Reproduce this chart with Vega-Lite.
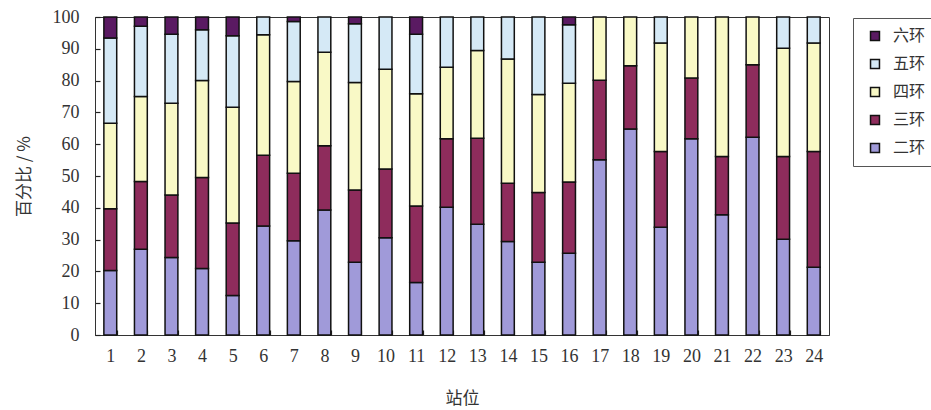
{
  "$schema": "https://vega.github.io/schema/vega-lite/v6.json",
  "width": 734,
  "height": 318,
  "autosize": {"type": "none"},
  "padding": {"left": 95, "top": 17, "right": 102, "bottom": 75},
  "background": "white",
  "config": {
    "view": {"stroke": "#333333", "strokeWidth": 1},
    "axis": {"domainColor": "#333333", "tickColor": "#222222", "tickWidth": 1.2, "labelColor": "#333333", "titleColor": "#333333", "grid": false}
  },
  "data": {"values": [
    {"s":1,"r":"二环","v":20.3},{"s":1,"r":"三环","v":19.4},{"s":1,"r":"四环","v":26.9},{"s":1,"r":"五环","v":26.8},{"s":1,"r":"六环","v":6.6},
    {"s":2,"r":"二环","v":27.0},{"s":2,"r":"三环","v":21.3},{"s":2,"r":"四环","v":26.7},{"s":2,"r":"五环","v":22.1},{"s":2,"r":"六环","v":2.9},
    {"s":3,"r":"二环","v":24.4},{"s":3,"r":"三环","v":19.6},{"s":3,"r":"四环","v":28.9},{"s":3,"r":"五环","v":21.7},{"s":3,"r":"六环","v":5.4},
    {"s":4,"r":"二环","v":20.9},{"s":4,"r":"三环","v":28.6},{"s":4,"r":"四环","v":30.5},{"s":4,"r":"五环","v":16.0},{"s":4,"r":"六环","v":4.0},
    {"s":5,"r":"二环","v":12.4},{"s":5,"r":"三环","v":22.8},{"s":5,"r":"四环","v":36.4},{"s":5,"r":"五环","v":22.5},{"s":5,"r":"六环","v":5.9},
    {"s":6,"r":"二环","v":34.3},{"s":6,"r":"三环","v":22.2},{"s":6,"r":"四环","v":37.9},{"s":6,"r":"五环","v":5.6},
    {"s":7,"r":"二环","v":29.6},{"s":7,"r":"三环","v":21.3},{"s":7,"r":"四环","v":28.8},{"s":7,"r":"五环","v":18.9},{"s":7,"r":"六环","v":1.4},
    {"s":8,"r":"二环","v":39.3},{"s":8,"r":"三环","v":20.2},{"s":8,"r":"四环","v":29.4},{"s":8,"r":"五环","v":11.1},
    {"s":9,"r":"二环","v":22.9},{"s":9,"r":"三环","v":22.7},{"s":9,"r":"四环","v":33.8},{"s":9,"r":"五环","v":18.5},{"s":9,"r":"六环","v":2.1},
    {"s":10,"r":"二环","v":30.6},{"s":10,"r":"三环","v":21.6},{"s":10,"r":"四环","v":31.4},{"s":10,"r":"五环","v":16.4},
    {"s":11,"r":"二环","v":16.5},{"s":11,"r":"三环","v":24.1},{"s":11,"r":"四环","v":35.3},{"s":11,"r":"五环","v":18.7},{"s":11,"r":"六环","v":5.4},
    {"s":12,"r":"二环","v":40.2},{"s":12,"r":"三环","v":21.5},{"s":12,"r":"四环","v":22.5},{"s":12,"r":"五环","v":15.8},
    {"s":13,"r":"二环","v":34.8},{"s":13,"r":"三环","v":27.1},{"s":13,"r":"四环","v":27.6},{"s":13,"r":"五环","v":10.5},
    {"s":14,"r":"二环","v":29.4},{"s":14,"r":"三环","v":18.3},{"s":14,"r":"四环","v":39.1},{"s":14,"r":"五环","v":13.2},
    {"s":15,"r":"二环","v":22.9},{"s":15,"r":"三环","v":21.9},{"s":15,"r":"四环","v":30.8},{"s":15,"r":"五环","v":24.4},
    {"s":16,"r":"二环","v":25.7},{"s":16,"r":"三环","v":22.4},{"s":16,"r":"四环","v":31.1},{"s":16,"r":"五环","v":18.4},{"s":16,"r":"六环","v":2.4},
    {"s":17,"r":"二环","v":55.1},{"s":17,"r":"三环","v":25.0},{"s":17,"r":"四环","v":19.9},
    {"s":18,"r":"二环","v":64.8},{"s":18,"r":"三环","v":19.9},{"s":18,"r":"四环","v":15.3},
    {"s":19,"r":"二环","v":33.9},{"s":19,"r":"三环","v":23.8},{"s":19,"r":"四环","v":34.1},{"s":19,"r":"五环","v":8.2},
    {"s":20,"r":"二环","v":61.7},{"s":20,"r":"三环","v":19.1},{"s":20,"r":"四环","v":19.2},
    {"s":21,"r":"二环","v":37.8},{"s":21,"r":"三环","v":18.3},{"s":21,"r":"四环","v":43.9},
    {"s":22,"r":"二环","v":62.2},{"s":22,"r":"三环","v":22.8},{"s":22,"r":"四环","v":15.0},
    {"s":23,"r":"二环","v":30.1},{"s":23,"r":"三环","v":26.0},{"s":23,"r":"四环","v":34.1},{"s":23,"r":"五环","v":9.8},
    {"s":24,"r":"二环","v":21.3},{"s":24,"r":"三环","v":36.4},{"s":24,"r":"四环","v":34.1},{"s":24,"r":"五环","v":8.2}
  ]},
  "transform": [
    {"calculate": "indexof(['二环','三环','四环','五环','六环'], datum.r)", "as": "o"}
  ],
  "mark": {"type": "bar", "stroke": "#111111", "strokeWidth": 1.5},
  "encoding": {
    "x": {
      "field": "s", "type": "ordinal", "title": "站位",
      "scale": {"paddingInner": 0.58, "paddingOuter": 0.29},
      "axis": {
        "labelAngle": 0, "labelFont": "Liberation Serif", "labelFontSize": 18,
        "tickBand": "extent", "tickSize": -5, "labelPadding": 17, "domainWidth": 1,
        "titleFont": "Noto Sans CJK SC", "titleFontSize": 17, "titleFontWeight": "normal", "titlePadding": 25
      }
    },
    "y": {
      "field": "v", "type": "quantitative", "stack": true, "title": "百分比 / %",
      "scale": {"domain": [0, 100], "nice": false},
      "axis": {
        "values": [0,10,20,30,40,50,60,70,80,90,100],
        "labelFont": "Liberation Serif", "labelFontSize": 18,
        "tickSize": -5, "labelPadding": 21,
        "titleFont": "Noto Sans CJK SC", "titleFontSize": 17, "titleFontWeight": "normal", "titlePadding": 19
      }
    },
    "order": {"field": "o", "type": "quantitative", "sort": "ascending"},
    "color": {
      "field": "r", "type": "nominal",
      "sort": ["六环","五环","四环","三环","二环"],
      "scale": {
        "domain": ["六环","五环","四环","三环","二环"],
        "range": ["#5a1a62","#d5e9f6","#f9f9c6","#8e2c5c","#a09ad9"]
      },
      "legend": {
        "title": null, "orient": "none", "legendX": 758, "legendY": 1,
        "symbolType": "square", "symbolSize": 80, "symbolStrokeColor": "#111111", "symbolStrokeWidth": 1.5,
        "labelFont": "Noto Sans CJK SC", "labelFontSize": 16, "labelColor": "#333333",
        "rowPadding": 12, "padding": 10, "strokeColor": "#555555", "fillColor": "white",
        "labelOffset": 10, "symbolOffset": 4
      }
    }
  }
}
